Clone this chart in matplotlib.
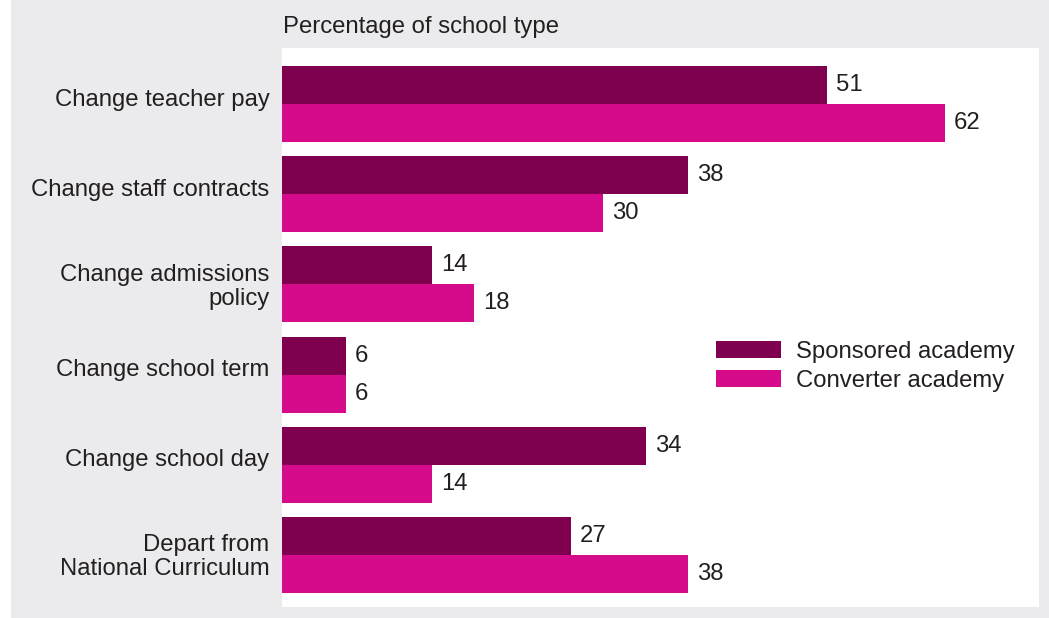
import numpy as np
import matplotlib.pyplot as plt
from matplotlib.patches import Rectangle
from matplotlib.transforms import ScaledTranslation

plt.rcParams['font.family'] = ['Liberation Sans', 'DejaVu Sans']

categories = ["Change teacher pay", "Change staff contracts", "Change admissions\npolicy",
              "Change school term", "Change school day", "Depart from\nNational Curriculum"]
sponsored = [51, 38, 14, 6, 34, 27]
converter = [62, 30, 18, 6, 14, 38]
series_names = ["Sponsored academy", "Converter academy"]

col_sp = '#800050'
col_cv = '#d60b8c'
txt = '#231f20'
fs = 17.2

W, H = 1049, 618
fig = plt.figure(figsize=(W / 100, H / 100), dpi=100)
fig.patch.set_facecolor('white')
# grey panel behind everything
fig.patches.append(Rectangle((11 / W, 0), 1, 1, transform=fig.transFigure,
                             facecolor='#ebebed', edgecolor='none', zorder=-10))

ax = fig.add_axes([282 / W, 1 - 607 / H, (1039 - 282) / W, (607 - 48) / H])
ax.set_facecolor('white')

y = np.arange(len(categories))
h = 0.422
ax.barh(y - h / 2, sponsored, height=h, color=col_sp, label=series_names[0])
ax.barh(y + h / 2, converter, height=h, color=col_cv, label=series_names[1])

for i in range(len(categories)):
    ax.text(sponsored[i] + 0.85, y[i] - h / 2, str(sponsored[i]), va='center', ha='left',
            fontsize=fs, color=txt)
    ax.text(converter[i] + 0.85, y[i] + h / 2, str(converter[i]), va='center', ha='left',
            fontsize=fs, color=txt)

ax.set_xlim(0, 70.8)
ax.set_ylim(5 + 0.422 + 14 / 90, -0.622)
ax.set_xticks([])
ax.set_yticks(y)
ax.set_yticklabels(categories, fontsize=fs, color=txt, linespacing=1.1,
                   multialignment='right')
ax.tick_params(axis='y', length=0, pad=9)
# single-line labels sit a little above the group centre
for lab in ax.get_yticklabels():
    dy = 1 if '\n' in lab.get_text() else 7
    lab.set_transform(lab.get_transform() +
                      ScaledTranslation(0, dy / 100, fig.dpi_scale_trans))
for s in ax.spines.values():
    s.set_visible(False)

fig.text(283 / W, 1 - 27 / H, "Percentage of school type", fontsize=fs, color=txt,
         ha='left', va='center')

ax.legend(loc='center left', bbox_to_anchor=((716 - 282) / (1039 - 282) - 0.029, 0.43),
          frameon=False, fontsize=fs, handlelength=2.75, handleheight=0.72,
          handletextpad=0.62, labelspacing=0.3, labelcolor=txt)

fig.savefig('out.png', dpi=100, facecolor=fig.get_facecolor())
